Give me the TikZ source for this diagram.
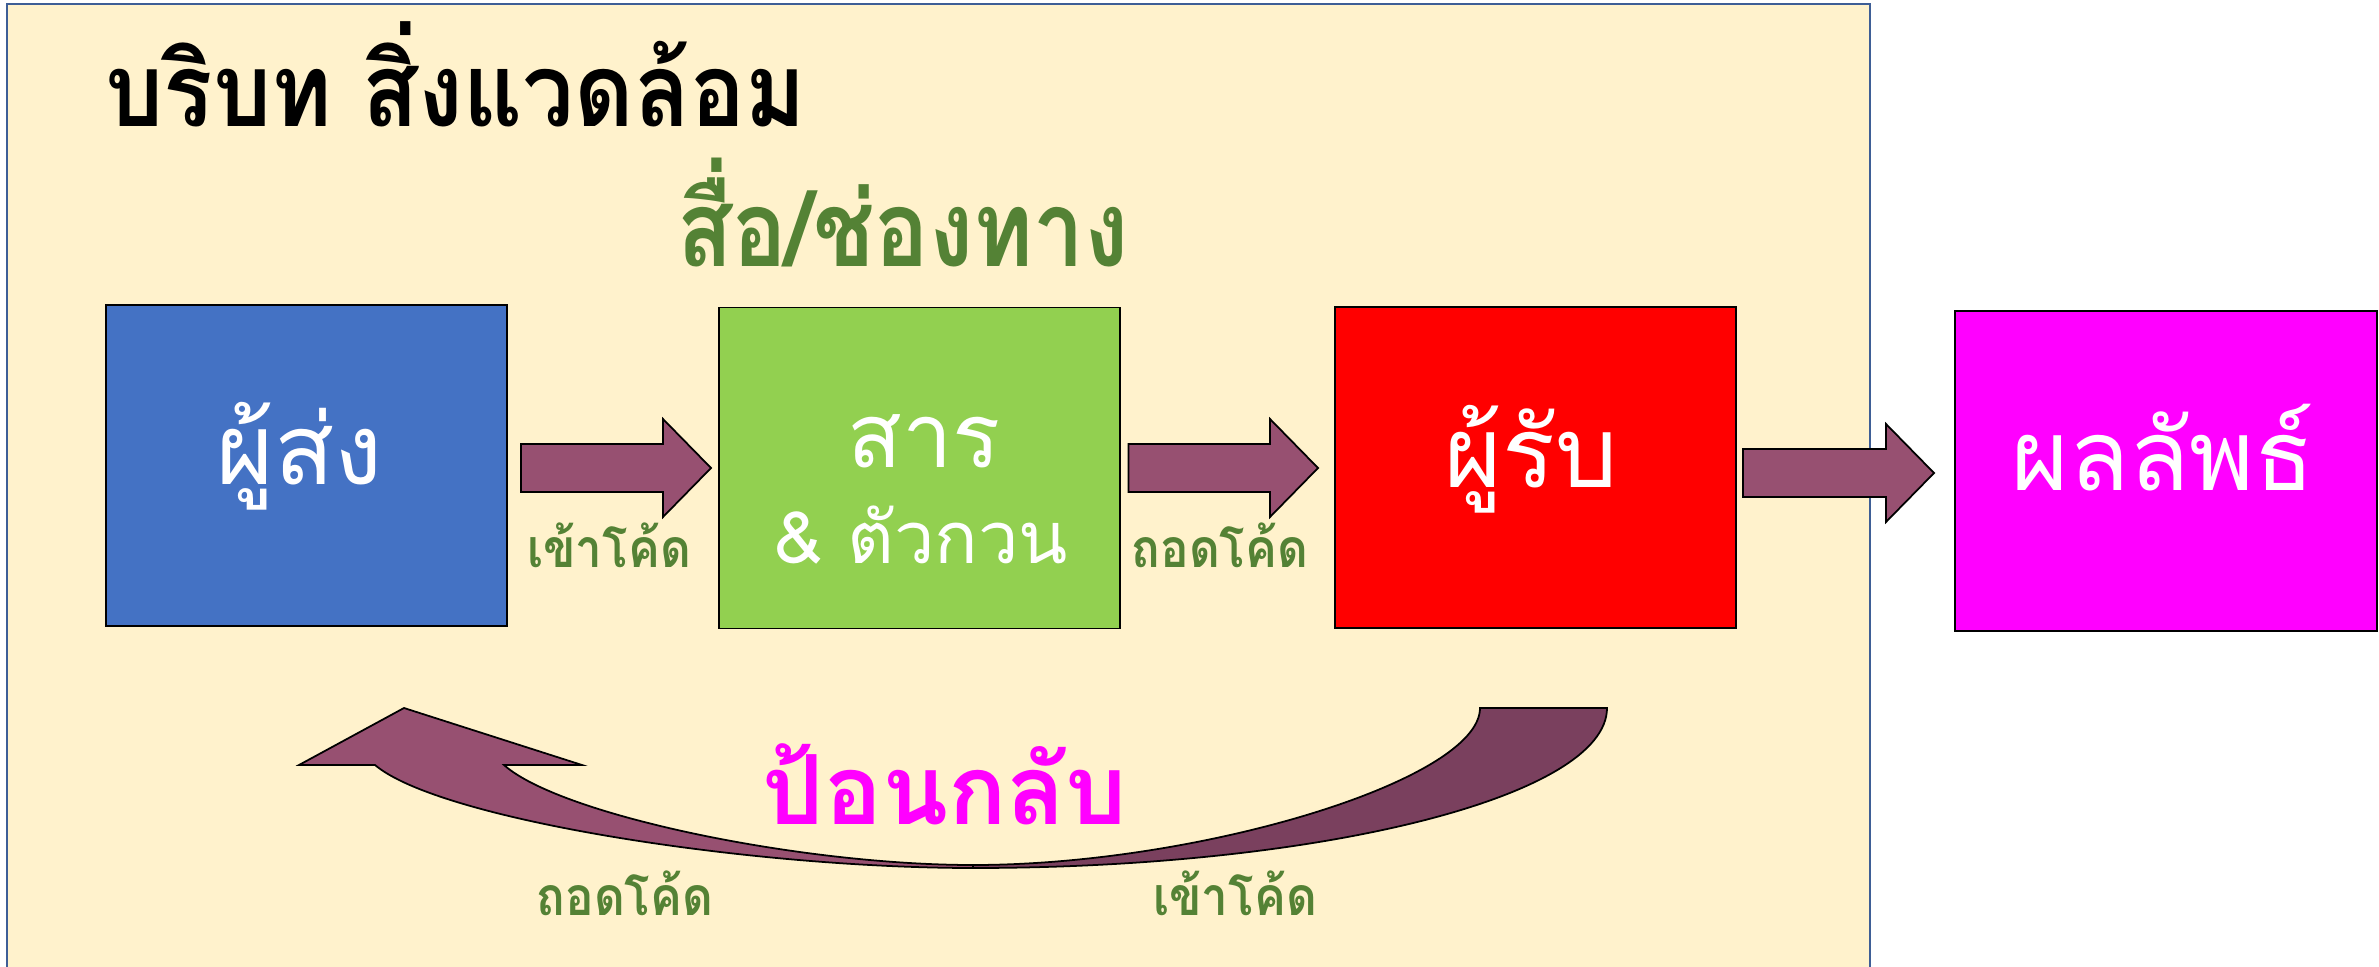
\documentclass[tikz,border=0pt]{standalone}
\usepackage{graphicx}
\usepackage{fontspec}
\newfontfamily\thai[Script=Thai]{Loma}
\usetikzlibrary{calc}
\definecolor{bgfill}{RGB}{255,242,204}
\definecolor{bgline}{RGB}{62,94,150}
\definecolor{sendblue}{RGB}{68,114,196}
\definecolor{msggreen}{RGB}{146,208,80}
\definecolor{rcvred}{RGB}{255,0,0}
\definecolor{resmag}{RGB}{255,0,255}
\definecolor{arrfill}{RGB}{151,80,113}
\definecolor{arrdark}{RGB}{122,64,94}
\definecolor{labgreen}{RGB}{84,130,53}
\newcommand\narrow[2]{\scalebox{#1}[1]{#2}}
\tikzset{
  boxnode/.style={draw=black, line width=0.5pt, inner sep=0pt, minimum width=4.01cm, minimum height=3.21cm},
  boxtext/.style={font=\thai\fontsize{28}{30}\selectfont, text=white, inner sep=0pt, anchor=base},
  codelabel/.style={font=\thai\bfseries\fontsize{15.2}{18}\selectfont, text=labgreen, inner sep=0pt, anchor=base},
  barrow/.style={fill=arrfill, draw=black, line width=0.5pt, line join=miter},
  carrowlight/.style={fill=arrfill, draw=black, line width=0.5pt, line join=miter},
  carrowdark/.style={fill=arrdark, draw=black, line width=0.5pt, line join=miter},
}
\newcommand\blockarrow[2]{%
  \draw[barrow] ($(#1)+(0,-24)$) -- ($(#2)+(-48,-24)$) -- ($(#2)+(-48,-49)$) -- (#2)
    -- ($(#2)+(-48,49)$) -- ($(#2)+(-48,24)$) -- ($(#1)+(0,24)$) -- cycle;}
\begin{document}
\begin{tikzpicture}[x=0.01cm,y=-0.01cm]
\useasboundingbox (0,0) rectangle (2379,967);
% environment background
\fill[bgfill] (7,4) rectangle (1870,980);
\draw[bgline, line width=0.7pt] (7,980) -- (7,4) -- (1870,4) -- (1870,980);
% title
\node[font=\thai\bfseries\fontsize{29}{32}\selectfont, inner sep=0pt, anchor=base west] (title) at (105,127) {\narrow{0.9}{บริบท สิ่งแวดล้อม}};
\node[font=\thai\bfseries\fontsize{30}{32}\selectfont, text=labgreen, inner sep=0pt, anchor=base] (channel) at (903,267) {\narrow{0.86}{สื่อ/ช่องทาง}};
% boxes
\node[boxnode, fill=sendblue] (snd) at (306.5,465.5) {};
\node[boxnode, fill=msggreen] (msg) at (919.5,468) {};
\node[boxnode, fill=rcvred] (rcv) at (1535.5,467.5) {};
\node[boxnode, fill=resmag, minimum width=4.22cm, minimum height=3.20cm] (res) at (2166,471) {};
% box texts
\node[boxtext] (sndtxt) at ($(snd.center)+(-7,19.5)$) {ผู้ส่ง};
\node[boxtext, font=\thai\fontsize{25.5}{30}\selectfont] (msgtxt1) at ($(msg.center)+(5,0)$) {สาร};
\node[boxtext, font=\thai\fontsize{20.5}{24}\selectfont] (msgtxt2) at ($(msg.center)+(2,95)$) {\& ตัวกวน};
\node[boxtext] (rcvtxt) at ($(rcv.center)+(-4,19.5)$) {ผู้รับ};
\node[boxtext] (restxt) at ($(res.center)+(-3,20)$) {ผลลัพธ์};
% straight block arrows
\coordinate (a1s) at ($(snd.east)+(13,2.5)$);
\coordinate (a1e) at ($(msg.west)+(-7,0)$);
\blockarrow{a1s}{a1e}
\coordinate (a2s) at ($(msg.east)+(7.5,0)$);
\coordinate (a2e) at ($(rcv.west)+(-16,0.5)$);
\blockarrow{a2s}{a2e}
\coordinate (a3s) at ($(rcv.east)+(6,5.5)$);
\coordinate (a3e) at ($(res.west)+(-20,2)$);
\blockarrow{a3s}{a3e}
% code labels
\node[codelabel] (enc1) at (609,567) {\narrow{0.89}{เข้าโค้ด}};
\node[codelabel] (dec1) at (1220,567) {\narrow{0.89}{ถอดโค้ด}};
% curved feedback arrow
\coordinate (fbtip) at (404,708);
\coordinate (fbbot) at (973,868);
\coordinate (fbbotin) at (973,865);
\coordinate (fbend) at (1607,708);
\coordinate (fbendin) at (1480,708);
\draw[carrowlight] (fbtip) -- (299,765) -- (375,765)
   .. controls (440,820) and (750,868) .. (fbbot) -- (fbbotin)
   .. controls (800,865) and (560,815) .. (504,765) -- (582,765) -- cycle;
\draw[carrowdark] (fbbot) .. controls (1323,868) and (1607,796) .. (fbend)
   -- (fbendin) .. controls (1480,780) and (1200,865) .. (fbbotin) -- cycle;
\node[font=\thai\bfseries\fontsize{27.5}{30}\selectfont, text=resmag, inner sep=0pt, anchor=base] (fb) at (945,824) {ป้อนกลับ};
\node[codelabel] (dec2) at (625,915) {\narrow{0.89}{ถอดโค้ด}};
\node[codelabel] (enc2) at (1235,915) {\narrow{0.89}{เข้าโค้ด}};
\end{tikzpicture}
\end{document}
